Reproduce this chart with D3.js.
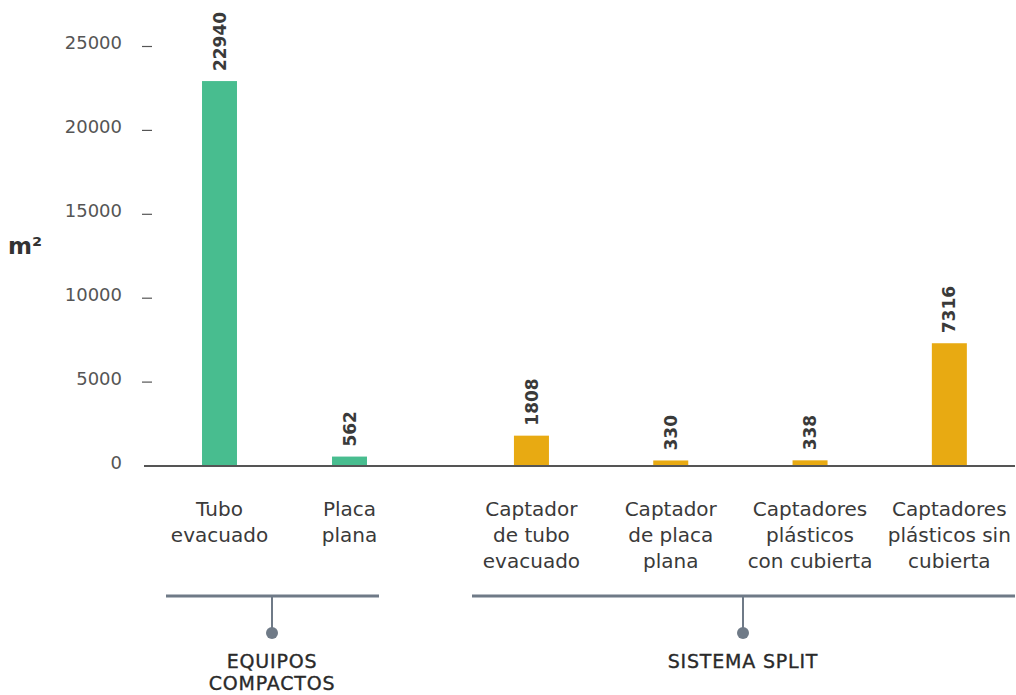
<!DOCTYPE html>
<html><head><meta charset="utf-8">
<script src="https://cdn.jsdelivr.net/npm/d3@7"></script>
<style>
html,body{margin:0;padding:0;background:#fff;}
svg{display:block;font-family:"DejaVu Sans",sans-serif;}
</style></head>
<body><svg id="c" width="1016" height="695"></svg>
<script>
const groups = ["EQUIPOS COMPACTOS", "SISTEMA SPLIT"];
const compactCategories = [["Tubo","evacuado"],["Placa","plana"]];
const compactValues = [22940, 562];
const splitCategories = [["Captador","de tubo","evacuado"],["Captador","de placa","plana"],["Captadores","plásticos","con cubierta"],["Captadores","plásticos sin","cubierta"]];
const splitValues = [1808, 330, 338, 7316];
const yTicks = [0, 5000, 10000, 15000, 20000, 25000];
const yLabel = "m²";

const colors = {compact:"#48bd8f", split:"#e8aa12"};
const svg = d3.select("#c");
const y = d3.scaleLinear().domain([0,25000]).range([466,46.5]);

const x1 = d3.scaleBand().domain(compactCategories.map(d=>d.join(" "))).range([154.5,414.5]).paddingInner(0.731).paddingOuter(0.3655);
const x2 = d3.scaleBand().domain(splitCategories.map(d=>d.join(" "))).range([461.8,1019]).paddingInner(0.7487).paddingOuter(0.37435);

// y ticks
const tg = svg.append("g");
yTicks.forEach(t=>{
  if(t>0) tg.append("line").attr("x1",142).attr("x2",152).attr("y1",y(t)).attr("y2",y(t)).attr("stroke","#555").attr("stroke-width",1.2);
  tg.append("text").attr("x",122).attr("y",y(t)-3.5).attr("dy","0.35em").attr("text-anchor","end")
    .attr("font-size",18).attr("fill","#555").text(t);
});
svg.append("text").attr("x",8).attr("y",254).attr("font-size",23).attr("font-weight","bold").attr("fill","#333").text(yLabel);

function drawGroup(cats, vals, x, color){
  const g = svg.append("g");
  cats.forEach((c,i)=>{
    const key=c.join(" "), v=vals[i];
    const cx = x(key)+x.bandwidth()/2;
    g.append("rect").attr("x",x(key)).attr("width",x.bandwidth()).attr("y",y(v)).attr("height",y(0)-y(v)).attr("fill",color);
    g.append("text").attr("transform",`translate(${cx},${y(v)-10}) rotate(-90)`).attr("dy","0.36em")
      .attr("font-size",17).attr("font-weight","bold").attr("fill","#3a3a3a").text(v);
    const t = g.append("text").attr("text-anchor","middle").attr("font-size",20).attr("fill","#3a3a3a");
    c.forEach((line,j)=>t.append("tspan").attr("x",cx).attr("y",516+26*j).text(line));
  });
}
drawGroup(compactCategories, compactValues, x1, colors.compact);
drawGroup(splitCategories, splitValues, x2, colors.split);

// baseline
svg.append("line").attr("x1",144).attr("x2",1015).attr("y1",y(0)).attr("y2",y(0)).attr("stroke","#555").attr("stroke-width",2);

// group brackets
const brackets = [
  {x1:166,x2:379,cx:272,lines:["EQUIPOS","COMPACTOS"]},
  {x1:472,x2:1015,cx:743,lines:["SISTEMA SPLIT"]}
];
const bc="#6f7a87";
brackets.forEach((b,i)=>{
  const g=svg.append("g");
  g.append("line").attr("x1",b.x1).attr("x2",b.x2).attr("y1",596).attr("y2",596).attr("stroke",bc).attr("stroke-width",3);
  g.append("line").attr("x1",b.cx).attr("x2",b.cx).attr("y1",596).attr("y2",630).attr("stroke",bc).attr("stroke-width",2);
  g.append("circle").attr("cx",b.cx).attr("cy",633).attr("r",6).attr("fill",bc);
  const t=g.append("text").attr("text-anchor","middle").attr("font-size",19).attr("letter-spacing",0.8).attr("fill","#2a2a2a")
    .attr("stroke","#2a2a2a").attr("stroke-width",0.35);
  b.lines.forEach((l,j)=>t.append("tspan").attr("x",b.cx).attr("y",668+22*j).text(l));
});
</script></body></html>
